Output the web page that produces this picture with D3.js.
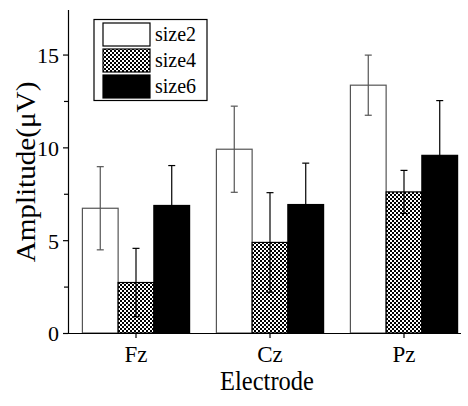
<!DOCTYPE html>
<html><head><meta charset="utf-8">
<script src="https://cdn.jsdelivr.net/npm/d3@7"></script>
<style>body{margin:0;background:#fff} text{font-family:"Liberation Serif","Times New Roman",serif;}</style>
</head><body>
<svg id="c" width="468" height="406"></svg>
<script>
const categories = ["Fz", "Cz", "Pz"];
const seriesNames = ["size2", "size4", "size6"];
const size2 = [6.72, 9.9, 13.35];
const size4 = [2.72, 4.88, 7.6];
const size6 = [6.87, 6.92, 9.57];
const err2 = [2.24, 2.32, 1.62];
const err4 = [1.84, 2.68, 1.16];
const err6 = [2.15, 2.23, 2.95];
const yTicks = [0, 5, 10, 15];
const yMinorTicks = [2.5, 7.5, 12.5];

const values = [size2, size4, size6];
const errs = [err2, err4, err6];
const fills = ["#fff", "url(#chk)", "#000"];

const svg = d3.select("#c");
const defs = svg.append("defs");
const pat = defs.append("pattern").attr("id", "chk").attr("width", 4).attr("height", 4)
  .attr("patternUnits", "userSpaceOnUse");
pat.append("rect").attr("width", 4).attr("height", 4).attr("fill", "#fff");
pat.append("rect").attr("width", 2).attr("height", 2).attr("fill", "#000");
pat.append("rect").attr("x", 2).attr("y", 2).attr("width", 2).attr("height", 2).attr("fill", "#000");

const x0 = 68, y0 = 333;
const x = d3.scaleBand().domain(categories).range([69, 471]).paddingInner(0).paddingOuter(0);
const bw = x.bandwidth();
const x1 = d3.scaleBand().domain(seriesNames).range([bw * 0.1, bw * 0.9]).padding(0);
const y = d3.scaleLinear().domain([0, 17.4]).range([y0, 10]);

const font = '"Liberation Serif","Times New Roman",serif';

// bars
seriesNames.forEach((s, si) => {
  const g = svg.append("g");
  categories.forEach((c, ci) => {
    const bx = x(c) + x1(s);
    g.append("rect").attr("x", bx).attr("y", y(values[si][ci]))
      .attr("width", x1.bandwidth()).attr("height", y(0) - y(values[si][ci]))
      .attr("fill", fills[si]).attr("stroke", si === 0 ? "#555" : "#000").attr("stroke-width", 1.2);
  });
});
// error bars
seriesNames.forEach((s, si) => {
  categories.forEach((c, ci) => {
    const cx = x(c) + x1(s) + x1.bandwidth() / 2;
    const v = values[si][ci], e = errs[si][ci];
    const col = si === 0 ? "#555" : "#000";
    const g = svg.append("g").attr("stroke", col).attr("stroke-width", 1.2);
    g.append("line").attr("x1", cx).attr("x2", cx).attr("y1", y(v + e)).attr("y2", y(v - e));
    g.append("line").attr("x1", cx - 3.5).attr("x2", cx + 3.5).attr("y1", y(v + e)).attr("y2", y(v + e));
    g.append("line").attr("x1", cx - 3.5).attr("x2", cx + 3.5).attr("y1", y(v - e)).attr("y2", y(v - e));
  });
});

// y axis
const ya = svg.append("g").attr("transform", `translate(${x0},0)`)
  .call(d3.axisLeft(y).tickValues(yTicks).tickSize(5).tickSizeOuter(0).tickFormat(d3.format("d")));
svg.append("g").attr("transform", `translate(${x0},0)`)
  .call(d3.axisLeft(y).tickValues(yMinorTicks).tickSize(4).tickSizeOuter(0).tickFormat(""))
  .select(".domain").remove();
ya.select(".domain").attr("d", `M0.5,${y0}V10`);
ya.attr("font-family", null);
ya.selectAll("text").style("font-family", font).style("font-size", "22px").attr("fill", "#000").attr("dx", -1).attr("dy", "0.36em");

// x axis
const xa = svg.append("g").attr("transform", `translate(0,${y0})`)
  .call(d3.axisBottom(x).tickSize(5).tickSizeOuter(0));
xa.attr("font-family", null);
xa.select(".domain").attr("d", `M${x0 - 1},0.5H461`);
xa.selectAll("text").style("font-family", font).style("font-size", "23px").attr("fill", "#000").attr("dy", "0.9em");
svg.selectAll(".domain, .tick line").attr("stroke", "#000").attr("stroke-width", 1.2);

// axis titles (source image is slightly stretched vertically)
svg.append("text").attr("transform", "translate(267,390) scale(1,1.1)").attr("text-anchor", "middle")
  .style("font-family", font).style("font-size", "24.5px").text("Electrode");
svg.append("text").attr("transform", "translate(35,172) scale(1,1.1) rotate(-90)").attr("text-anchor", "middle")
  .style("font-family", font).style("font-size", "26.5px").text("Amplitude(μV)");

// legend
const lg = svg.append("g");
lg.append("rect").attr("x", 94).attr("y", 19.5).attr("width", 113).attr("height", 81)
  .attr("fill", "#fff").attr("stroke", "#000").attr("stroke-width", 1.2);
seriesNames.forEach((s, i) => {
  const yy = 23 + i * 26;
  lg.append("rect").attr("x", 103).attr("y", yy).attr("width", 47).attr("height", 23)
    .attr("fill", fills[i]).attr("stroke", "#000").attr("stroke-width", 1.2);
  lg.append("text").attr("transform", `translate(155,${yy + 18}) scale(1,1.1)`)
    .style("font-family", font).style("font-size", "20px").text(s);
});
</script>
</body></html>
